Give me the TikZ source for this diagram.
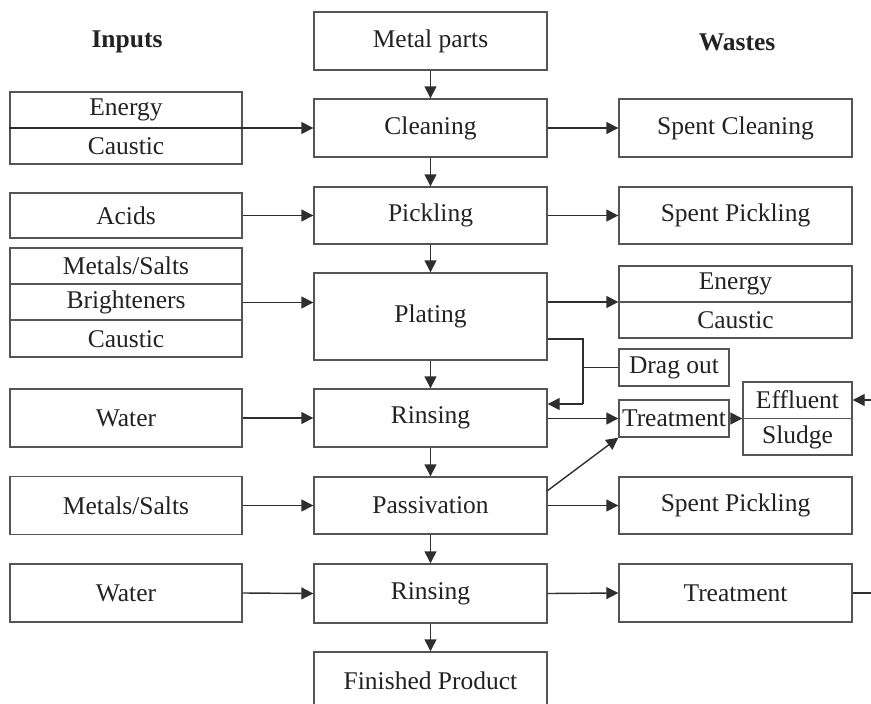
\documentclass[tikz,border=0pt]{standalone}
\usepackage{fontspec}
\setmainfont{Liberation Serif}
\usetikzlibrary{arrows.meta}
\definecolor{boxgray}{HTML}{555555}
\definecolor{linegray}{HTML}{2E2E2E}
\definecolor{txt}{HTML}{222222}
\begin{document}
\begin{tikzpicture}[x=1pt,y=-1pt,
  lbl/.style={font=\fontsize{25.5}{29}\selectfont, text=txt, inner sep=0pt},
  box/.style={draw=boxgray, line width=1.4pt, rectangle, inner sep=0pt,
    font=\fontsize{25.5}{29}\selectfont, text=txt},
  cbox/.style={box, minimum width=233pt},
  divider/.style={draw=boxgray, line width=1.4pt},
  conn/.style={draw=linegray, line width=1.4pt},
  arr/.style={conn, -{Triangle[length=12pt,width=12pt]}},
  head/.style={font=\fontsize{25.5}{29}\selectfont\bfseries, text=txt}]
\useasboundingbox (0,0) rectangle (871,704);
\clip (0,0) rectangle (871,704);

% column headings
\node[head] (hin) at (127,42) {Inputs};
\node[head] (hout) at (737,42) {Wastes};

% process column
\node[cbox, minimum height=58pt] (metal) at (430.5,41) {Metal parts};
\node[cbox, minimum height=58pt] (clean) at (430.5,128) {Cleaning};
\node[cbox, minimum height=57pt] (pickle) at (430.5,215.5) {Pickling};
\node[cbox, minimum height=87pt] (plate) at (430.5,316.5) {Plating};
\node[cbox, minimum height=58pt] (rinse1) at (430.5,418) {Rinsing};
\node[cbox, minimum height=57pt] (passiv) at (430.5,505.5) {Passivation};
\node[cbox, minimum height=59pt] (rinse2) at (430.5,593.5) {Rinsing};
\node[cbox, minimum height=62pt] (finish) at (430.5,683) {};
\node[lbl] (finishtxt) at (430.5,681) {Finished Product};

% input column
\node[box, minimum width=232pt, minimum height=72pt] (in1) at (126,128) {};
\node[lbl] (in1a) at (126,110) {Energy};
\node[lbl] (in1b) at (126,146) {Caustic};
\node[box, minimum width=232pt, minimum height=45pt] (acids) at (126,215.5) {Acids};
\node[box, minimum width=232pt, minimum height=109pt] (in3) at (126,302.5) {};
\node[lbl] (in3a) at (126,266) {Metals/Salts};
\node[lbl] (in3b) at (126,302) {Brighteners};
\node[lbl] (in3c) at (126,339) {Caustic};
\draw[divider] (10,284) -- (242,284);
\draw[divider] (10,320) -- (242,320);
\node[box, minimum width=232pt, minimum height=58pt] (water1) at (126,418) {Water};
\node[box, minimum width=232pt, minimum height=58pt] (metals2) at (126,505.5) {Metals/Salts};
\node[box, minimum width=232pt, minimum height=58pt] (water2) at (126,593) {Water};

% waste column
\node[cbox, minimum height=58pt] (spclean) at (735.5,128) {Spent Cleaning};
\node[cbox, minimum height=57pt] (sppick) at (735.5,215.5) {Spent Pickling};
\node[cbox, minimum height=72pt] (out3) at (735.5,302) {};
\node[lbl] (out3a) at (735.5,284) {Energy};
\node[lbl] (out3b) at (735.5,320) {Caustic};
\node[box, minimum width=110pt, minimum height=37pt] (drag) at (674,367.5) {Drag out};
\node[box, minimum width=110pt, minimum height=37pt] (treat) at (674,418.5) {Treatment};
\node[box, minimum width=109pt, minimum height=73pt] (effl) at (797.5,418.5) {};
\node[lbl] (eff) at (797.5,400) {Effluent};
\node[lbl] (slud) at (797.5,437) {Sludge};
\draw[divider] (effl.west) -- (effl.east);
\node[cbox, minimum height=57pt] (sppick2) at (735.5,505.5) {Spent Pickling};
\node[cbox, minimum height=58pt] (treat2) at (735.5,593) {Treatment};

% main flow
\draw[arr] (metal) -- (clean);
\draw[arr] (clean) -- (pickle);
\draw[arr] (pickle) -- (plate);
\draw[arr] (plate) -- (rinse1);
\draw[arr] (rinse1) -- (passiv);
\draw[arr] (passiv) -- (rinse2);
\draw[arr] (rinse2) -- (finish);

% inputs
\draw[arr] (in1.west) -- (clean.west);
\draw[arr] (acids.east) -- (pickle.west);
\draw[arr] (in3.east) -- (plate.west |- in3.east);
\draw[arr] (water1.east) -- (rinse1.west);
\draw[arr] (metals2.east) -- (passiv.west);
\draw[arr] (water2.east) -- (rinse2.west);

% wastes
\draw[arr] (clean.east) -- (spclean.west);
\draw[arr] (pickle.east) -- (sppick.west);
\draw[arr] (plate.east |- out3.west) -- (out3.west);
\draw[divider] (out3.west) -- (out3.east);
\coordinate (dj) at (583,339);
\draw[conn] (plate.east |- dj) -- (dj) -- (dj |- drag.west) -- (583,404);
\draw[arr] (583,404) -- (rinse1.east |- 0,404);
\draw[conn] (drag.west) -- (dj |- drag.west);
\draw[arr] (rinse1.east |- treat.west) -- (treat.west);
\draw[arr] (treat.east) -- (effl.west);
\coordinate (effin) at (871,400);
\draw[arr] (effin) -- (effl.east |- effin);
\coordinate (pdiag) at (547,491);
\draw[arr] (pdiag) -- (treat.south west);
\draw[arr] (passiv.east) -- (sppick2.west);
\draw[arr] (rinse2.east) -- (treat2.west);
\coordinate (tout) at (871,593);
\draw[conn] (treat2.east) -- (tout);
\end{tikzpicture}
\end{document}
